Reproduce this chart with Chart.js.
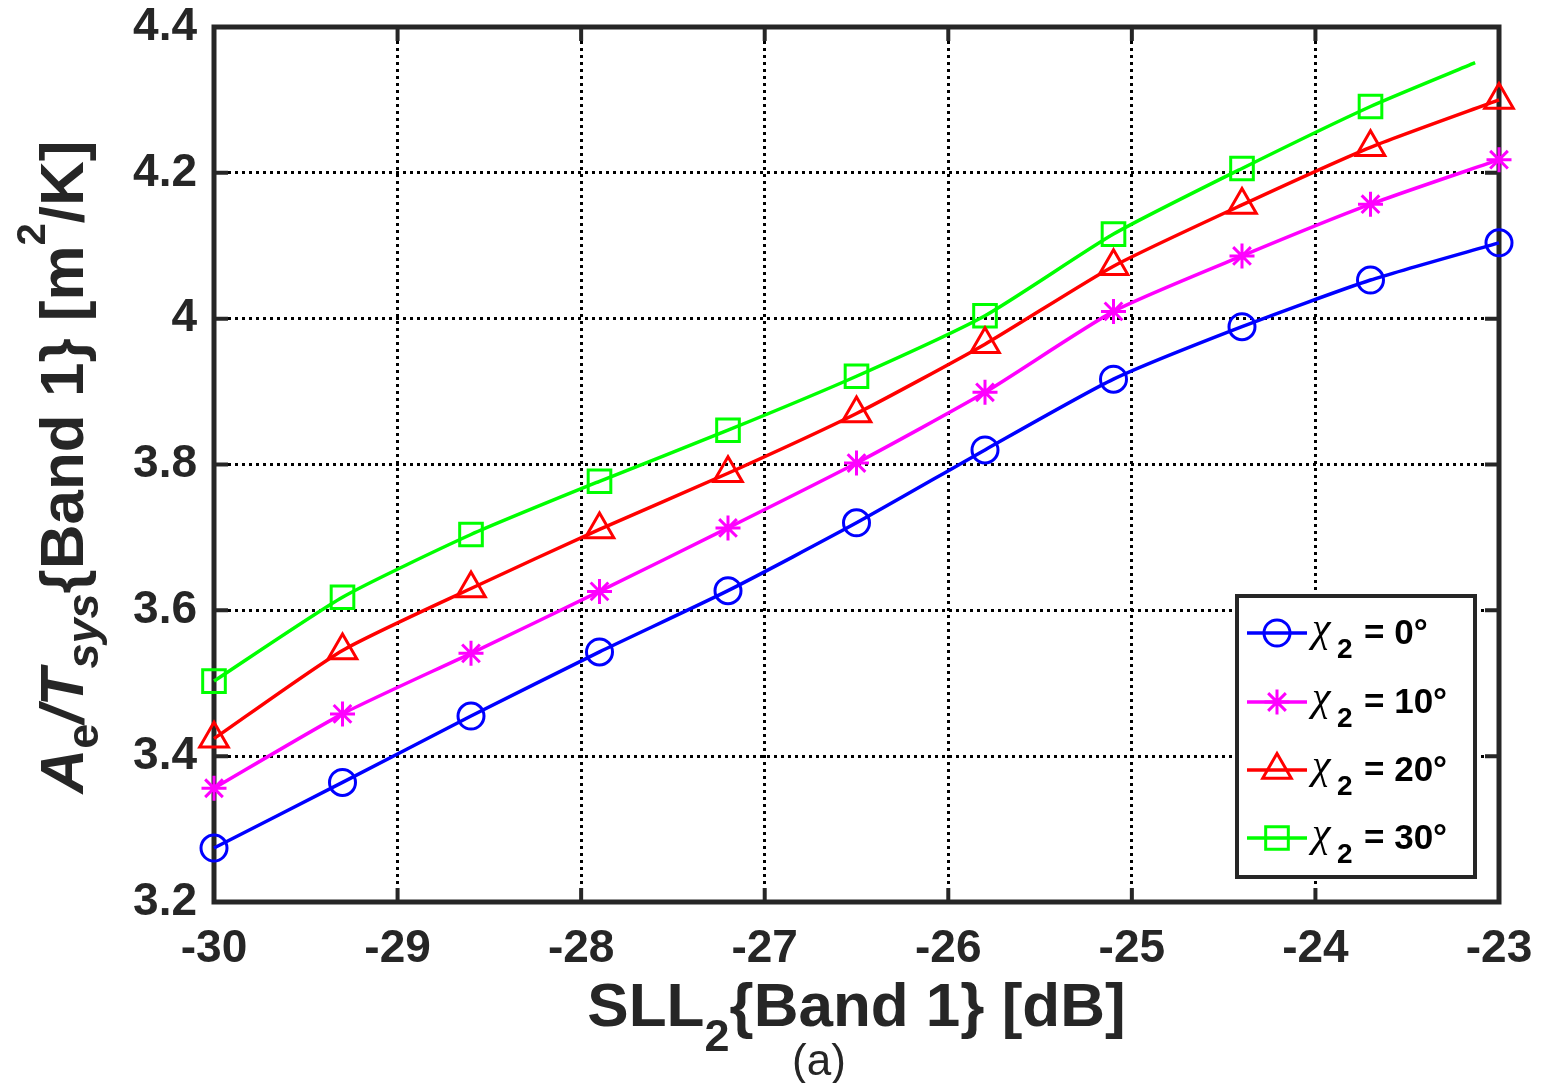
<!DOCTYPE html>
<html lang="en">
<head>
<meta charset="UTF-8">
<title>Ae/Tsys versus SLL2, Band 1</title>
<script src="https://cdn.jsdelivr.net/npm/chart.js@4.4.1/dist/chart.umd.min.js"></script>
<style>
    body { margin: 0; background: #ffffff; }
    #wrap { width: 1541px; height: 1083px; position: relative; }
</style>
</head>
<body>
<div id="wrap"><canvas id="chart"></canvas></div>
<script>
    // SLL2 sample points (dB), one marker each
    const sll = [-30, -29.3, -28.6, -27.9, -27.2, -26.5, -25.8, -25.1, -24.4, -23.7, -23];
    // the 30 deg curve stops a little short of -23 dB
    const sll30 = [-30, -29.3, -28.6, -27.9, -27.2, -26.5, -25.8, -25.1, -24.4, -23.7, -23.13];

    // Ae/Tsys in m^2/K for each chi_2
    const chi0 = [3.274, 3.364, 3.455, 3.543, 3.627, 3.720, 3.820, 3.917, 3.989, 4.053, 4.104];
    const chi10 = [3.356, 3.458, 3.541, 3.626, 3.713, 3.802, 3.899, 4.010, 4.086, 4.157, 4.218];
    const chi20 = [3.424, 3.545, 3.630, 3.711, 3.788, 3.870, 3.965, 4.072, 4.156, 4.235, 4.300];
    const chi30 = [3.503, 3.618, 3.704, 3.777, 3.847, 3.921, 4.004, 4.116, 4.206, 4.291, 4.351];

    const chiLabels = ['0°', '10°', '20°', '30°'];
    const xTicks = [-30, -29, -28, -27, -26, -25, -24, -23];
    const yTicks = [3.2, 3.4, 3.6, 3.8, 4.0, 4.2, 4.4];

    const FONT = '"Liberation Sans", Arial, sans-serif';
    const INK = '#262626';

    const styles = [
        { color: '#0000ff', point: 'circle', radius: 13 },
        { color: '#ff00ff', point: 'star', radius: 12.5 },
        { color: '#ff0000', point: 'triangle', radius: 16.5 },
        { color: '#00ff00', point: 'rect', radius: 16 },
    ];

    function series(xs, ys, idx, lastHidden) {
        const st = styles[idx];
        return {
            label: chiLabels[idx],
            data: xs.map((x, i) => ({ x: x, y: ys[i] })),
            borderColor: st.color,
            backgroundColor: st.color,
            pointBorderColor: st.color,
            pointBackgroundColor: 'rgba(0,0,0,0)',
            pointStyle: st.point,
            pointRadius: ctx => (lastHidden && ctx.dataIndex === xs.length - 1) ? 0 : st.radius,
            pointBorderWidth: 3,
            borderWidth: 3.5,
            tension: 0.2,
            clip: false,
        };
    }

    // writes a row of text pieces with different fonts / offsets, centred on cx
    function drawRuns(ctx, runs, cx, baseY) {
        let total = 0;
        runs.forEach(r => {
            ctx.font = r.font;
            r.w = ctx.measureText(r.text).width;
            total += r.w;
        });
        let x = cx - total / 2;
        runs.forEach(r => {
            ctx.font = r.font;
            ctx.fillText(r.text, x, baseY + (r.dy || 0));
            x += r.w;
        });
    }

    const frame = {
        id: 'frame',
        beforeDatasetsDraw(chart) {
            const { ctx, chartArea: a, scales } = chart;
            ctx.save();
            ctx.strokeStyle = INK;
            ctx.lineWidth = 4;
            ctx.beginPath();
            xTicks.forEach(v => {
                const px = scales.x.getPixelForValue(v);
                ctx.moveTo(px, a.bottom); ctx.lineTo(px, a.bottom - 14);
                ctx.moveTo(px, a.top); ctx.lineTo(px, a.top + 14);
            });
            yTicks.forEach(v => {
                const py = scales.y.getPixelForValue(v);
                ctx.moveTo(a.left, py); ctx.lineTo(a.left + 14, py);
                ctx.moveTo(a.right, py); ctx.lineTo(a.right - 14, py);
            });
            ctx.stroke();
            ctx.lineWidth = 5;
            ctx.strokeRect(a.left, a.top, a.right - a.left, a.bottom - a.top);
            ctx.restore();
        },
        afterDraw(chart) {
            const { ctx, chartArea: a } = chart;
            ctx.save();
            ctx.fillStyle = INK;
            ctx.textAlign = 'left';
            ctx.textBaseline = 'alphabetic';

            // x axis title
            const big = 'bold 62px ' + FONT;
            const sub = 'bold 45px ' + FONT;
            drawRuns(ctx, [
                { text: 'SLL', font: big },
                { text: '2', font: sub, dy: 25 },
                { text: '{Band 1} [dB]', font: big },
            ], (a.left + a.right) / 2, 1026);

            ctx.font = '44px ' + FONT;
            ctx.textAlign = 'center';
            ctx.fillText('(a)', 819, 1075);
            ctx.textAlign = 'left';

            // y axis title, rotated
            ctx.translate(83, 467);
            ctx.rotate(-Math.PI / 2);
            drawRuns(ctx, [
                { text: 'A', font: 'italic bold 62px ' + FONT },
                { text: 'e', font: sub, dy: 15 },
                { text: '/T', font: 'italic bold 62px ' + FONT },
                { text: 'sys', font: 'italic bold 45px ' + FONT, dy: 15 },
                { text: '{Band 1} [m', font: big },
                { text: '2', font: 'bold 40px ' + FONT, dy: -38 },
                { text: '/K]', font: big },
            ], 0, 0);
            ctx.setTransform(1, 0, 0, 1, 0, 0);

            // legend box
            const L = 1237, T = 596, W = 238, H = 281;
            ctx.fillStyle = '#ffffff';
            ctx.fillRect(L, T, W, H);
            ctx.strokeStyle = INK;
            ctx.lineWidth = 4;
            ctx.strokeRect(L, T, W, H);

            const rows = [633, 702, 770, 838];
            rows.forEach((ry, i) => {
                const st = styles[i];
                ctx.strokeStyle = st.color;
                ctx.lineWidth = 3.5;
                ctx.beginPath();
                ctx.moveTo(1247, ry); ctx.lineTo(1307, ry);
                ctx.stroke();
                ctx.fillStyle = 'rgba(0,0,0,0)';
                ctx.lineWidth = 3;
                Chart.helpers.drawPoint(ctx, {
                    pointStyle: st.point, radius: st.radius, rotation: 0, borderWidth: 3,
                }, 1277, ry);

                ctx.fillStyle = '#000000';
                ctx.font = 'italic 42px "Liberation Serif", "DejaVu Serif", serif';
                ctx.fillText('\u03c7', 1312, ry + 8);
                ctx.font = 'bold 28px ' + FONT;
                ctx.fillText('2', 1337, ry + 25);
                ctx.font = 'bold 35px ' + FONT;
                ctx.fillText('= ' + chiLabels[i], 1364, ry + 11);
            });
            ctx.restore();
        },
    };

    const tickFont = { family: FONT, size: 46, weight: 'bold' };

    new Chart(document.getElementById('chart'), {
        type: 'line',
        data: {
            datasets: [
                series(sll, chi0, 0, false),
                series(sll, chi10, 1, false),
                series(sll, chi20, 2, false),
                series(sll30, chi30, 3, true),
            ],
        },
        options: {
            responsive: true,
            maintainAspectRatio: false,
            animation: false,
            layout: { padding: { left: 0, top: 27, right: 42, bottom: 0 } },
            plugins: {
                legend: { display: false },
                tooltip: { enabled: false },
            },
            scales: {
                x: {
                    type: 'linear',
                    min: -30,
                    max: -23,
                    afterBuildTicks: s => { s.ticks = xTicks.map(v => ({ value: v })); },
                    afterFit: s => {
                        s.height = 1083 - 902;
                        s.paddingLeft = 0;
                        s.paddingRight = 0;
                    },
                    ticks: {
                        font: tickFont,
                        color: INK,
                        padding: 20,
                        maxRotation: 0,
                        callback: v => String(v),
                    },
                    grid: { color: '#000000', lineWidth: 3, drawTicks: false },
                    border: { display: false, dash: [3, 4] },
                },
                y: {
                    min: 3.2,
                    max: 4.4,
                    afterBuildTicks: s => { s.ticks = yTicks.map(v => ({ value: v })); },
                    afterFit: s => {
                        s.width = 214;
                        s.paddingTop = 0;
                        s.paddingBottom = 0;
                    },
                    ticks: {
                        font: tickFont,
                        color: INK,
                        padding: 17,
                        callback: v => String(+v.toFixed(1)),
                    },
                    grid: { color: '#000000', lineWidth: 3, drawTicks: false },
                    border: { display: false, dash: [3, 4] },
                },
            },
        },
        plugins: [frame],
    });
</script>
</body>
</html>
